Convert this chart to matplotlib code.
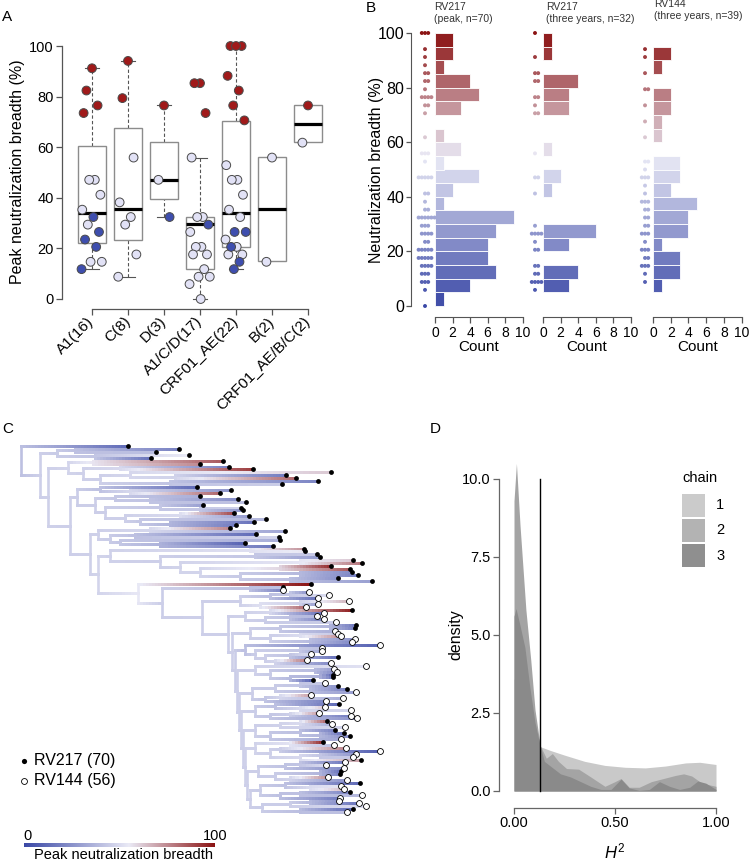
import numpy as np
import matplotlib
matplotlib.use("Agg")
import matplotlib.pyplot as plt
from matplotlib.colors import LinearSegmentedColormap
from matplotlib.collections import LineCollection
from matplotlib.patches import Rectangle

plt.rcParams['font.family'] = ['Liberation Sans', 'DejaVu Sans']
plt.rcParams['mathtext.fontset'] = 'custom'
plt.rcParams['mathtext.rm'] = 'Liberation Sans'
plt.rcParams['mathtext.it'] = 'Liberation Sans:italic'

# ---------------- DATA ----------------
# Panel A: peak neutralization breadth (%) per subtype, class R=red, L=light, D=dark blue
subtypes = ['A1(16)', 'C(8)', 'D(3)', 'A1/C/D(17)', 'CRF01_AE(22)', 'B(2)', 'CRF01_AE/B/C(2)']
A1_breadth = [91.2, 82.4, 76.5, 73.5, 47.1, 47.1, 41.2, 35.3, 29.4, 14.7, 14.7, 32.4, 26.5, 23.5, 20.6, 11.8]
A1_class = "RRRRLLLLLLLDDDDD"
C_breadth = [94.1, 79.4, 55.9, 38.2, 32.4, 29.4, 17.6, 8.8]
C_class = "RRLLLLLL"
D_breadth = [76.5, 47.1, 32.4]
D_class = "RLD"
ACD_breadth = [85.3, 85.3, 73.5, 55.9, 32.4, 32.4, 29.4, 26.5, 20.6, 20.6, 17.6, 17.6, 11.8, 8.8, 8.8, 5.9, 0.0]
ACD_class = "RRRLLLDLLLLLLLLLL"
AE_breadth = [100, 100, 100, 88.2, 82.4, 76.5, 70.6, 52.9, 47.1, 47.1, 41.2, 35.3, 32.4, 23.5, 20.6,
              17.6, 17.6, 26.5, 26.5, 20.6, 14.7, 11.8]
AE_class = "RRRRRRRLLLLLLLLLLDDDDD"
B_breadth = [55.9, 14.7]
B_class = "LL"
AEBC_breadth = [76.5, 61.8]
AEBC_class = "RL"

box_q1 = [22, 23.5, 39.5, 12, 20.5, 15, 62]
box_med = [34, 35.5, 47, 29.5, 34, 35.5, 69]
box_q3 = [60.5, 67.5, 62, 32.5, 70.5, 56, 76.5]
whisk_lo = [11.8, 8.8, 32.4, 0.0, 11.8, None, None]
whisk_hi = [91.2, 94.1, 76.5, 55.9, 100, None, None]

# Panel B: histograms (5% bins) and individual values
bin_starts = list(range(0, 100, 5))
rv217_peak_counts = [1, 4, 7, 6, 6, 7, 9, 1, 2, 5, 1, 3, 1, 0, 3, 5, 4, 1, 2, 2]
rv217_3y_counts = [0, 3, 4, 0, 3, 6, 0, 0, 1, 2, 0, 1, 0, 0, 3, 3, 4, 0, 1, 1]
rv144_3y_counts = [0, 1, 3, 3, 1, 4, 4, 5, 2, 3, 3, 0, 1, 1, 2, 2, 0, 1, 2, 0]
rv217_3y_values = [100, 91.2, 85.3, 85.3, 82.4, 82.4, 76.5, 76.5, 73.5, 70.6, 70.6, 55.9, 47.1, 47.1,
                   41.2, 29.4, 26.5, 26.5, 26.5, 26.5, 23.5, 20.6, 20.6, 14.7, 14.7, 11.8, 11.8,
                   8.8, 8.8, 8.8, 8.8, 5.9]
rv144_3y_values = [94.1, 91.2, 85.3, 79.4, 79.4, 73.5, 67.6, 61.8, 52.9, 52.9, 50, 47.1, 47.1, 47.1,
                   44.1, 41.2, 38.2, 38.2, 38.2, 35.3, 35.3, 32.4, 32.4, 29.4, 29.4, 26.5, 26.5, 26.5,
                   23.5, 20.6, 20.6, 20.6, 17.6, 17.6, 14.7, 14.7, 14.7, 11.8, 8.8]
hist_titles = ['RV217\n(peak, n=70)', 'RV217\n(three years, n=32)', 'RV144\n(three years, n=39)']

# Panel C: phylogeny (tips in drawing order); tip depth, cohort (S=RV217, T=RV144), breadth
tip_depth = [128, 179, 156, 189, 151, 223, 200, 229, 253, 331,
             286, 296, 318, 282, 197, 231, 220, 200, 238, 246,
             203, 241, 243, 234, 249, 266, 254, 236, 230, 285,
             256, 279, 280, 245, 273, 304, 305, 317, 320, 353,
             362, 331, 350, 352, 358, 338, 372, 311, 283, 283,
             309, 329, 318, 349, 318, 306, 352, 324, 317, 324,
             336, 356, 355, 335, 338, 341, 355, 352, 380, 322,
             322, 311, 338, 307, 331, 366, 334, 337, 333, 333,
             313, 325, 338, 347, 356, 311, 343, 326, 339, 325,
             351, 319, 351, 357, 327, 332, 345, 335, 344, 350,
             341, 323, 334, 346, 380, 356, 353, 361, 345, 326,
             344, 341, 340, 328, 347, 360, 341, 344, 350, 362,
             340, 339, 359, 366, 353, 347]
tip_cohort = ("SSSSSSSSSS" "SSSSSSSSSS" "SSSSSSSSSS" "SSSSSSSSSS" "SSSSSSSSST"
              "TTTTTTSTTT" "TSSTTTTTTT" "TTSTTTTTSS" "STSSTTTTST" "TTTTSTTSSS"
              "TSTTTTTSTT" "TSSTTSTTST" "TTTTST")
tip_breadth = [12, 20, 40, 55, 15, 85, 75, 20, 91, 62,
               18, 82, 21, 45, 12, 27, 82, 35, 24, 41,
               30, 47, 26, 88, 29, 38, 15, 18, 76, 32,
               12, 47, 35, 9, 17, 73, 56, 44, 29, 62,
               79, 94, 85, 23, 20, 26, 30, 100, 41, 20,
               26, 50, 14, 66, 29, 82, 97, 14, 38, 20,
               44, 17, 20, 35, 44, 74, 26, 23, 9, 41,
               32, 50, 14, 79, 23, 52, 29, 20, 12, 17,
               9, 44, 26, 20, 29, 71, 35, 20, 12, 62,
               47, 71, 18, 26, 82, 35, 47, 20, 15, 24,
               32, 94, 41, 76, 8, 27, 44, 70, 17, 50,
               23, 15, 20, 74, 26, 12, 53, 64, 21, 38,
               18, 26, 15, 50, 12, 41]
ancestral_base = 46.0   # reconstructed breadth at deep internal nodes
# topology: "(child,child)@node_depth", tips referenced by number
S1 = "(((51,52)@290,53)@270,((54,55)@300,56)@260)@240"
S2 = "((57,58)@270,((59,60)@290,61)@265)@245"
S3 = "(((62,63)@330,64)@280,((65,66)@300,(67,68)@310)@270)@250"
S4 = "(69,((70,71)@300,((72,73)@290,(74,75)@275)@265)@255)@245"
S5 = "(76,((77,78)@315,((79,80)@320,81)@290)@270)@255"
S6 = "(((82,83)@300,(84,85)@310)@275,((86,87)@280,88)@265)@252"
S7 = "((89,(90,91)@300)@275,((92,93)@290,94)@270)@255"
S8 = "(((95,96)@300,97)@280,((98,(99,100)@320)@300,101)@270)@255"
S9 = "((102,103)@290,((104,105)@280,((106,107)@320,108)@300)@270)@255"
S10 = "(((109,110)@300,111)@285,((112,113)@320,(114,115)@290)@275)@258"
S11 = "((116,(117,118)@310)@285,((119,120)@300,121)@280)@260"
S12 = "(((122,123)@310,124)@290,(125,126)@300)@262"
Q11 = "(" + S11 + "," + S12 + ")@250"
Q10 = "(" + S10 + "," + Q11 + ")@247"
Q9 = "(" + S9 + "," + Q10 + ")@245"
Q8 = "(" + S8 + "," + Q9 + ")@243"
Q7 = "(" + S7 + "," + Q8 + ")@241"
Q6 = "(" + S6 + "," + Q7 + ")@239"
Q5 = "(" + S5 + "," + Q6 + ")@237"
Q4 = "(" + S4 + "," + Q5 + ")@235"
Q3 = "(" + S3 + "," + Q4 + ")@232"
Q2 = "(" + S2 + "," + Q3 + ")@228"
P_ = "(" + S1 + "," + Q2 + ")@202"
M_ = "((49,50)@250," + P_ + ")@162"
L_ = "(48," + M_ + ")@138"
K_ = "((36,37)@250,((38,39)@255,((40,41)@300,((42,43)@280,((44,45)@300,(46,47)@290)@240)@200)@180)@160)@110"
J_ = "(" + K_ + "," + L_ + ")@98"
I_ = "((29,30)@150,((31,32)@135,(33,(34,35)@160)@120)@110)@98"
H_ = "(" + I_ + "," + J_ + ")@90"
F_ = ("((15,(16,17)@130)@100,((18,(19,20)@150)@115,((21,(22,23)@200)@160,"
      "((24,25)@180,(26,(27,28)@170)@140)@125)@105)@95)@77")
E_ = "(" + F_ + "," + H_ + ")@70"
D_ = "((6,7)@93,((8,9)@120,((10,(11,12)@175)@130,(13,14)@170)@100)@83)@68"
C_ = "(" + D_ + "," + E_ + ")@48"
B_ = "((2,3)@75,(4,5)@95)@57"
A_ = "(" + B_ + "," + C_ + ")@40"
tree_newick = "(1," + A_ + ")@21"

# Panel D: posterior density of H^2 for three chains
chain1_h = [0, 0.02, 0.05, 0.08, 0.11, 0.13, 0.18, 0.25, 0.35, 0.45, 0.55, 0.65, 0.75, 0.85, 0.92, 1.0]
chain1_d = [3.6, 3.4, 2.9, 2.3, 1.75, 1.42, 1.3, 1.15, 0.95, 0.82, 0.76, 0.74, 0.8, 0.9, 0.92, 0.85]
chain2_h = [0, 0.012, 0.03, 0.059, 0.083, 0.104, 0.13, 0.16, 0.19, 0.22, 0.26, 0.32, 0.38, 0.45, 0.5,
            0.53, 0.57, 0.62, 0.68, 0.74, 0.8, 0.84, 0.88, 0.93, 1.0]
chain2_d = [9.3, 10.5, 8.5, 5.8, 4.2, 2.6, 1.45, 1.05, 1.2, 0.95, 0.72, 0.7, 0.45, 0.15, 0.3,
            0.4, 0.12, 0.12, 0.3, 0.4, 0.5, 0.55, 0.48, 0.25, 0.15]
chain3_h = [0, 0.01, 0.03, 0.054, 0.079, 0.104, 0.129, 0.15, 0.19, 0.23, 0.28, 0.33, 0.38, 0.43, 0.48,
            0.53, 0.57, 0.62, 0.67, 0.72, 0.77, 0.82, 0.87, 0.91, 0.95, 1.0]
chain3_d = [5.6, 5.85, 5.3, 4.6, 3.3, 2.2, 1.47, 0.95, 0.75, 0.55, 0.45, 0.3, 0.15, 0.05, 0.05,
            0.38, 0.1, 0.02, 0.05, 0.3, 0.15, 0.05, 0.12, 0.32, 0.25, 0.05]
h2_threshold = 0.13

# ---------------- FIGURE ----------------
W, H = 749, 861
fig = plt.figure(figsize=(W / 100, H / 100), dpi=100)


def add_ax(l, t, r, b):
    return fig.add_axes([l / W, 1 - b / H, (r - l) / W, (b - t) / H])


def ftext(x, y, s, **kw):
    kw.setdefault('ha', 'center')
    kw.setdefault('va', 'center')
    fig.text(x / W, 1 - y / H, s, **kw)


cmap = LinearSegmentedColormap.from_list('nb', [(0, '#3A48A6'), (0.55, '#EAEAF6'), (1, '#8B1313')])
SPINE = '#555555'


def swarm(vals, ppu_x, ppu_y, diam, step):
    placed, offs = [], []
    for v in vals:
        y = v * ppu_y
        c = 0.0
        for k in range(0, 60):
            c = 0.0 if k == 0 else ((k + 1) // 2) * step * (1 if k % 2 else -1)
            if all((c - px) ** 2 + (y - py) ** 2 >= diam ** 2 for px, py in placed):
                break
        placed.append((c, y))
        offs.append(c / ppu_x)
    return offs


def vdc(n, base=2):
    v, denom = 0.0, 1.0
    while n:
        denom *= base
        n, r = divmod(n, base)
        v += r / denom
    return v


def quasirandom(vals, width):
    order = np.argsort(vals)[::-1]
    offs = np.zeros(len(vals))
    for k, idx in enumerate(order):
        offs[idx] = (vdc(k + 1) - 0.5) * width
    return offs


# ---------- Panel A ----------
axA = add_ax(62, 40, 330, 309)
axA.set_xlim(1 - 30 / 36, 1 + 238 / 36)
axA.set_ylim((299 - 309) / 2.53, (299 - 40) / 2.53)
groups_vals = [A1_breadth, C_breadth, D_breadth, ACD_breadth, AE_breadth, B_breadth, AEBC_breadth]
groups_cls = [A1_class, C_class, D_class, ACD_class, AE_class, B_class, AEBC_class]
pt_colors = {'R': '#A01A1A', 'L': '#E2E2F6', 'D': '#3E4EAE'}
for i in range(7):
    x = i + 1
    axA.add_patch(Rectangle((x - 0.4, box_q1[i]), 0.8, box_q3[i] - box_q1[i], fc='white',
                            ec='#8c8c8c', lw=1.0, zorder=2))
    axA.plot([x - 0.4, x + 0.4], [box_med[i]] * 2, color='black', lw=2.3, solid_capstyle='butt', zorder=3)
    if whisk_lo[i] is not None:
        axA.plot([x, x], [whisk_lo[i], box_q1[i]], color='#555555', lw=0.8, ls=(0, (3, 2)), zorder=1)
        axA.plot([x, x], [box_q3[i], whisk_hi[i]], color='#555555', lw=0.8, ls=(0, (3, 2)), zorder=1)
        for w in (whisk_lo[i], whisk_hi[i]):
            axA.plot([x - 0.19, x + 0.19], [w, w], color='#555555', lw=0.8, zorder=1)
    offs = quasirandom(groups_vals[i], 0.62)
    axA.scatter(x + offs, groups_vals[i], s=40,
                c=[pt_colors[c] for c in groups_cls[i]], edgecolors='#4a4a4a', linewidths=0.7, zorder=4)
for s in ('top', 'right'):
    axA.spines[s].set_visible(False)
axA.spines['left'].set_bounds(0, 100)
axA.spines['bottom'].set_bounds(1, 7)
for s in ('left', 'bottom'):
    axA.spines[s].set_color(SPINE)
    axA.spines[s].set_linewidth(0.9)
axA.set_yticks(range(0, 101, 20))
axA.set_xticks(range(1, 8))
axA.set_xticklabels(subtypes, rotation=45, ha='right', va='center', rotation_mode='anchor', fontsize=11)
axA.tick_params(axis='y', labelsize=10.5, length=4, width=0.9, color=SPINE, pad=2)
axA.tick_params(axis='x', length=4.5, width=0.9, color=SPINE, pad=3)
ftext(18, 172, 'Peak neutralization breadth (%)', rotation=90, fontsize=11.5)
ftext(2, 17, 'A', ha='left', fontsize=11)

# ---------- Panel B ----------
subs = [(411, 526, 435, 8.77, -1.14), (527, 634, 543, 8.8, -0.91), (636, 745, 653, 8.87, -0.9)]
all_counts = [rv217_peak_counts, rv217_3y_counts, rv144_3y_counts]
rv217_peak_values = A1_breadth + C_breadth + D_breadth + ACD_breadth + AE_breadth + B_breadth + AEBC_breadth
all_values = [rv217_peak_values, rv217_3y_values, rv144_3y_values]
title_pos = [(434, 13), (546, 13), (654, 10)]
for j, (l, r, zero, ppc, ctr) in enumerate(subs):
    ax = add_ax(l, 28, r, 317)
    ax.set_xlim((l - zero) / ppc, (r - zero) / ppc)
    ax.set_ylim((306 - 317) / 2.73, (306 - 28) / 2.73)
    cols = [cmap((b + 2.5) / 100) for b in bin_starts]
    ax.barh(bin_starts, all_counts[j], height=5, left=0, align='edge', color=cols,
            edgecolor='white', linewidth=0.6, zorder=2)
    vals = sorted(all_values[j], reverse=True)
    offs = swarm(vals, ppc, 2.73, 3.2, 3.2)
    ax.scatter([ctr + o for o in offs], vals, s=8, c=[cmap(v / 100) for v in vals], linewidths=0, zorder=3)
    for s in ('top', 'right'):
        ax.spines[s].set_visible(False)
    ax.spines['bottom'].set_bounds(0, 10)
    ax.spines['bottom'].set_color(SPINE)
    ax.set_xticks(range(0, 11, 2))
    ax.tick_params(axis='x', labelsize=10, length=4.5, width=0.9, color=SPINE, pad=2)
    if j == 0:
        ax.spines['left'].set_bounds(0, 100)
        ax.spines['left'].set_color(SPINE)
        ax.set_yticks(range(0, 101, 20))
        ax.tick_params(axis='y', labelsize=11.5, length=3.5, width=0.9, color=SPINE, pad=1.5)
    else:
        ax.spines['left'].set_visible(False)
        ax.set_yticks([])
    ax.patch.set_alpha(0)
    ftext(zero + 5 * ppc, 347, 'Count', fontsize=11)
    tx, ty = title_pos[j]
    ftext(tx, ty, hist_titles[j], ha='left', fontsize=7.5, color='#333333', linespacing=1.25)
ftext(376, 170, 'Neutralization breadth (%)', rotation=90, fontsize=11.5)
ftext(366, 8, 'B', ha='left', fontsize=11)

# ---------- Panel C: tree ----------
def parse_tree(s):
    pos = [0]

    def node():
        if s[pos[0]] == '(':
            pos[0] += 1
            kids = [node()]
            while s[pos[0]] == ',':
                pos[0] += 1
                kids.append(node())
            pos[0] += 2  # ')@'
            j0 = pos[0]
            while pos[0] < len(s) and (s[pos[0]].isdigit() or s[pos[0]] == '.'):
                pos[0] += 1
            return {'kids': kids, 'depth': float(s[j0:pos[0]])}
        j0 = pos[0]
        while s[pos[0]].isdigit():
            pos[0] += 1
        return {'tip': int(s[j0:pos[0]])}
    return node()


TIP_Y0, TIP_DY = 446.0, 2.93
root = parse_tree(tree_newick)


def setup(n):
    if 'tip' in n:
        i = n['tip'] - 1
        n['depth'] = tip_depth[i]
        n['y'] = TIP_Y0 + i * TIP_DY
        n['val'] = tip_breadth[i]
    else:
        for k in n['kids']:
            setup(k)
        n['y'] = (n['kids'][0]['y'] + n['kids'][-1]['y']) / 2
        m = float(np.mean([k['val'] for k in n['kids']]))
        n['val'] = ancestral_base + 0.3 * (m - ancestral_base)


setup(root)
hsegs, hcols, vsegs, vcols = [], [], [], []


def draw(n, parent):
    if parent is not None:
        x0, x1 = parent['depth'], n['depth']
        m = max(2, int((x1 - x0) / 3.0))
        xs = np.linspace(x0, x1, m + 1)
        vs = np.linspace(parent['val'], n['val'], m + 1)
        for q in range(m):
            hsegs.append([(xs[q], n['y']), (xs[q + 1], n['y'])])
            hcols.append(cmap((vs[q] + vs[q + 1]) / 200))
    if 'kids' in n:
        vsegs.append([(n['depth'], n['kids'][0]['y']), (n['depth'], n['kids'][-1]['y'])])
        vcols.append(cmap(n['val'] / 100))
        for k in n['kids']:
            draw(k, n)


draw(root, None)
axC = add_ax(0, 430, 400, 830)
axC.set_xlim(0, 400)
axC.set_ylim(830, 430)
axC.axis('off')
axC.add_collection(LineCollection(vsegs, colors=vcols, linewidths=1.9, capstyle='projecting', zorder=1))
axC.add_collection(LineCollection(hsegs, colors=hcols, linewidths=1.9, capstyle='projecting',
                                  antialiaseds=False, zorder=2))
tx = np.array(tip_depth, dtype=float)
ty = TIP_Y0 + np.arange(len(tip_depth)) * TIP_DY
isS = np.array([c == 'S' for c in tip_cohort])
axC.scatter(tx[isS], ty[isS], s=12, c='black', linewidths=0, zorder=4)
axC.scatter(tx[~isS], ty[~isS], s=18, facecolors='white', edgecolors='black', linewidths=0.6, zorder=4)
axC.scatter([24], [761], s=14, c='black', linewidths=0, zorder=4)
axC.scatter([24], [781], s=18, facecolors='white', edgecolors='black', linewidths=0.6, zorder=4)
ftext(34, 761, 'RV217 (70)', ha='left', fontsize=11.5)
ftext(34, 781, 'RV144 (56)', ha='left', fontsize=11.5)
axCB = add_ax(24, 843, 215, 847)
axCB.imshow(np.linspace(0, 1, 256)[None, :], aspect='auto', cmap=cmap)
axCB.axis('off')
ftext(23, 836, '0', ha='left', fontsize=10.5)
ftext(227, 836, '100', ha='right', fontsize=10.5)
ftext(124, 855, 'Peak neutralization breadth', fontsize=10.5)
ftext(2, 429, 'C', ha='left', fontsize=11)

# ---------- Panel D ----------
axD = add_ax(499, 455, 730, 808)
axD.set_xlim((499 - 514) / 202, (730 - 514) / 202)
axD.set_ylim((791 - 808) / 31.2, (791 - 455) / 31.2)
axD.fill_between(chain1_h, 0, chain1_d, color='#C9C9C9', lw=0, zorder=1)
axD.fill_between(chain2_h, 0, chain2_d, color='#A4A4A4', lw=0, zorder=2)
axD.fill_between(chain3_h, 0, chain3_d, color='#8A8A8A', lw=0, zorder=3)
axD.plot([h2_threshold, h2_threshold], [0, 10], color='black', lw=1.0, zorder=4)
for s in ('top', 'right'):
    axD.spines[s].set_visible(False)
axD.spines['left'].set_bounds(0, 10)
axD.spines['bottom'].set_bounds(0, 1)
for s in ('left', 'bottom'):
    axD.spines[s].set_color('#666666')
    axD.spines[s].set_linewidth(0.9)
axD.set_yticks([0, 2.5, 5, 7.5, 10])
axD.set_yticklabels(['0.0', '2.5', '5.0', '7.5', '10.0'])
axD.set_xticks([0, 0.5, 1])
axD.set_xticklabels(['0.00', '0.50', '1.00'])
axD.tick_params(labelsize=10.5, length=4, width=0.9, color='#666666', pad=2)
ftext(456, 635, 'density', rotation=90, fontsize=11.5)
ftext(615, 851, r'$H^2$', fontsize=12)
ftext(430, 429, 'D', ha='left', fontsize=11)
ftext(682, 478, 'chain', ha='left', fontsize=10.5)
for k, (col, lab) in enumerate([('#CBCBCB', '1'), ('#B3B3B3', '2'), ('#8F8F8F', '3')]):
    top = 494 + k * 25
    fig.add_artist(Rectangle((682 / W, 1 - (top + 23) / H), 23 / W, 23 / H, transform=fig.transFigure,
                             fc=col, ec='none'))
    ftext(716, top + 11.5, lab, ha='left', fontsize=10.5)

fig.savefig('out.png', dpi=100)
